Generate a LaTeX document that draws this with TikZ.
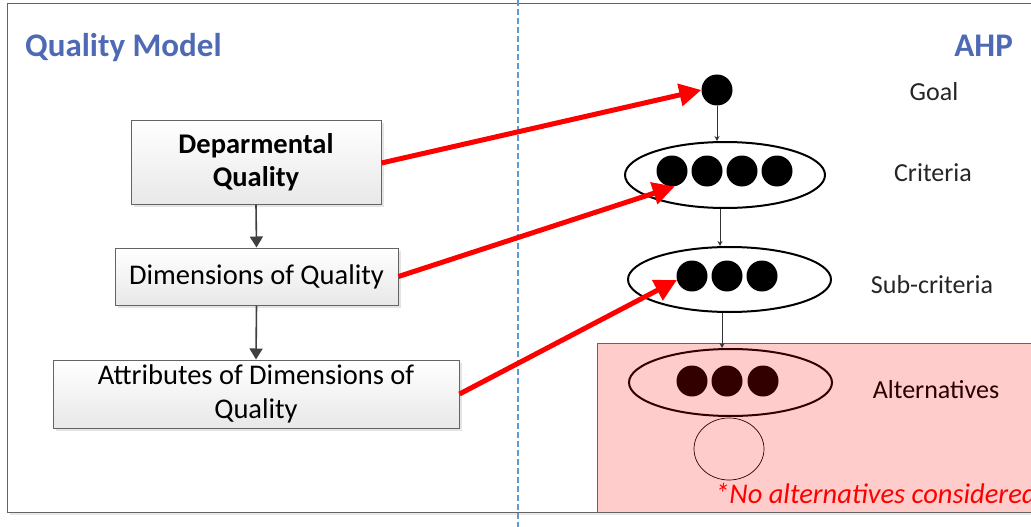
\documentclass[tikz,border=0pt]{standalone}
\usepackage{fontspec}
\setmainfont{Carlito}
\usetikzlibrary{arrows.meta,shapes.geometric,shadows}
\definecolor{titleblue}{RGB}{79,106,180}
\definecolor{dashblue}{RGB}{91,155,213}
\definecolor{pinkfill}{RGB}{255,204,204}
\definecolor{darkbrown}{RGB}{51,0,0}
\definecolor{boxborder}{RGB}{100,100,100}
\tikzset{
  qbox/.style={draw=boxborder, line width=1pt, top color=white, bottom color=gray!18,
    drop shadow={shadow xshift=3pt, shadow yshift=-3pt, fill=gray!35, opacity=0.6},
    align=center, inner sep=2pt, font=\fontsize{28.5}{33.5}\selectfont},
  boxarrow/.style={draw=black!75, line width=1.6pt, -{Triangle[length=11pt,width=13pt]}},
  redarrow/.style={draw=red, line width=5pt, -{Triangle[length=22pt,width=22pt]}},
  thinarrow/.style={draw=black!80, line width=0.8pt, -{Stealth[length=5pt,width=5pt]}},
  dot/.style={circle, fill=black, minimum size=31pt, inner sep=0pt},
  adot/.style={circle, fill=darkbrown, minimum size=31pt, inner sep=0pt},
  ring/.style={ellipse, draw=black, line width=2pt, inner sep=0pt},
  lvl/.style={font=\fontsize{26}{30}\selectfont, text=black!85},
  title/.style={font=\fontsize{33}{38}\selectfont\bfseries, text=titleblue, inner sep=0pt}
}
\begin{document}
\begin{tikzpicture}[x=1pt,y=-1pt]
\useasboundingbox (0,0) rectangle (1031,527);
\clip (0,0) rectangle (1031,527);
\fill[white] (0,0) rectangle (1031,527);
% outer frame
\draw[draw=boxborder, line width=1pt, drop shadow={shadow xshift=3pt, shadow yshift=-3pt, fill=gray!30, opacity=0.6}, fill=white] (7,4) rectangle (1045,512);
% pink region
\draw[draw=boxborder, line width=0.8pt, fill=pinkfill] (597,343) rectangle (1045,512);
% dashed divider
\draw[dashblue, line width=1.2pt, dash pattern=on 6pt off 3pt] (518,0) -- (518,527);
% titles
\node[title, anchor=base west] (tqm) at (25,57) {Quality Model};
\node[title, anchor=base east] (tahp) at (1013,57) {AHP};
% quality model boxes
\node[qbox, minimum width=250pt, minimum height=84pt, font=\fontsize{28.5}{33.5}\selectfont\bfseries] (dq) at (256,162) {Deparmental\\Quality};
\node[qbox, minimum width=283pt, minimum height=57pt] (dim) at (256.5,276.5) {Dimensions of Quality};
\node[qbox, minimum width=406pt, minimum height=68pt] (att) at (256,394) {Attributes of Dimensions of\\Quality};
\draw[boxarrow] (dq.south) -- (dim.north);
\draw[boxarrow] (dim.south) -- (att.north);
% AHP hierarchy
\node[dot] (goal) at (717,90) {};
\node[ring, minimum width=200pt, minimum height=66pt] (crit) at (725,175) {};
\node[dot] (c1) at (672,171) {};
\node[dot] (c2) at (707,171) {};
\node[dot] (c3) at (742,171) {};
\node[dot] (c4) at (777,171) {};
\node[ring, minimum width=203pt, minimum height=65pt] (sub) at (729.5,279.5) {};
\node[dot] (s1) at (692,276) {};
\node[dot] (s2) at (727,276) {};
\node[dot] (s3) at (762,276) {};
\node[ring, draw=darkbrown, minimum width=203pt, minimum height=67pt] (alt) at (730.5,382.5) {};
\node[adot] (a1) at (692,381) {};
\node[adot] (a2) at (727,381) {};
\node[adot] (a3) at (763,381) {};
\node[ellipse, draw=darkbrown, line width=0.7pt, minimum width=70pt, minimum height=62pt, inner sep=0pt] (altc) at (729,449) {};
\draw[thinarrow] (goal.south) -- (goal.south |- crit.north);
\draw[thinarrow] ([xshift=-5pt]crit.south) -- ([xshift=-5pt]crit.south |- sub.north);
\draw[thinarrow] ([xshift=-7.5pt]sub.south) -- ([xshift=-7.5pt]sub.south |- alt.north);
% level labels
\node[lvl] (lgoal) at (934,92) {Goal};
\node[lvl] (lcrit) at (933,173) {Criteria};
\node[lvl] (lsub) at (932,285) {Sub-criteria};
\node[lvl, text=darkbrown!80!black] (lalt) at (936,390) {Alternatives};
\node[anchor=base west, inner sep=0pt, text=red, font=\fontsize{28.5}{32}\selectfont\itshape] (note) at (715,503) {*No alternatives considered};
% red mapping arrows
\draw[redarrow] ([yshift=-1pt]dq.east) -- (goal.west);
\draw[redarrow] (dim.east) -- (c1.-80);
\draw[redarrow] (att.east) -- (s1.195);
\end{tikzpicture}
\end{document}
